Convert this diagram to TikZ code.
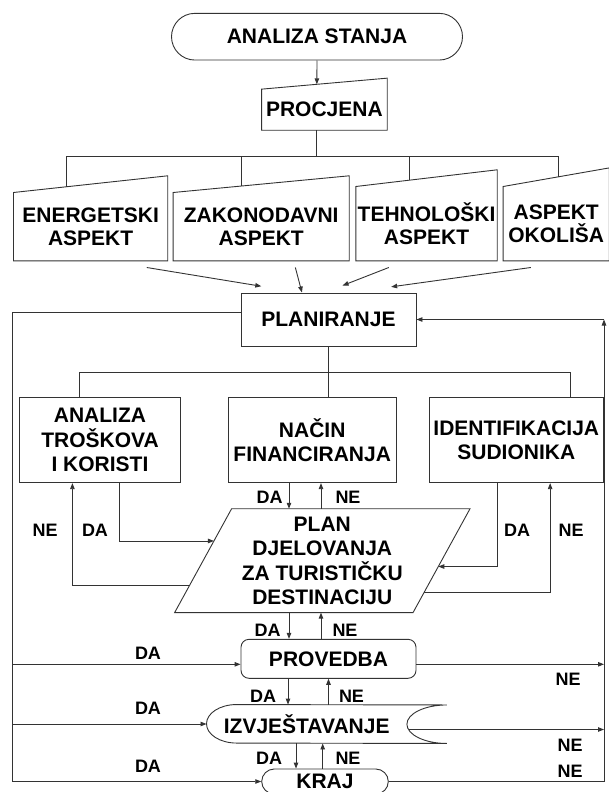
\documentclass[tikz,border=0pt]{standalone}
\usepackage{fontspec}
\setmainfont{Liberation Sans}
\usetikzlibrary{shapes.misc,arrows.meta,calc}

\tikzset{
  conn/.style={draw=black!80, line width=0.9pt},
  arr/.style={conn, -{Triangle[length=6pt,width=4.5pt]}},
  txt/.style={font=\bfseries\fontsize{21}{24.5}\selectfont, align=center, inner sep=0pt},
  proc/.style={txt, draw=black!80, line width=0.9pt, rectangle},
  term/.style={txt, draw=black!80, line width=0.9pt, rounded rectangle},
  manin/.style={txt, rectangle},
  aspect/.style={manin, font=\bfseries\fontsize{21}{23}\selectfont},
  lbl/.style={font=\bfseries\fontsize{18}{20}\selectfont, inner sep=0pt}
}

\begin{document}
\begin{tikzpicture}[x=1pt, y=-1pt]
  \useasboundingbox (0,0) rectangle (608,792);

  % blocks
  \node[term, minimum width=291pt, minimum height=46.7pt] (analiza) at (317,36.7) {ANALIZA STANJA};
  \node[manin, minimum width=125.3pt, minimum height=40.7pt] (procjena) at (324.4,109.7) {PROCJENA};

  \node[aspect, minimum width=153.9pt, minimum height=68pt] (energ) at (90.6,226.7) {ENERGETSKI\\ASPEKT};
  \node[aspect, minimum width=175.7pt, minimum height=68pt] (zakon) at (261.2,226.7) {ZAKONODAVNI\\ASPEKT};
  \node[aspect, minimum width=141pt, minimum height=74pt] (tehno) at (426.5,223.7) {TEHNOLOŠKI\\ASPEKT};
  \node[aspect, minimum width=105.7pt, minimum height=74pt] (okolis) at (556.2,223.7) {ASPEKT\\OKOLIŠA};

  \node[proc, minimum width=175pt, minimum height=53pt] (planir) at (328.5,319.5) {PLANIRANJE};
  \node[proc, minimum width=161.3pt, minimum height=85pt] (trosk) at (100,440.2) {ANALIZA\\TROŠKOVA\\I KORISTI};
  \node[proc, minimum width=168.3pt, minimum height=85pt] (nacin) at (312.2,440.2) {NAČIN\\FINANCIRANJA};
  \node[proc, minimum width=173.4pt, minimum height=85pt] (sudion) at (516.3,440.2) {IDENTIFIKACIJA\\SUDIONIKA};

  \node[manin, minimum width=238pt, minimum height=103.5pt] (plan) at (322.3,560.7) {PLAN\\DJELOVANJA\\ZA TURISTIČKU\\DESTINACIJU};
  \node[proc, rounded corners=8pt, minimum width=175pt, minimum height=39pt] (provedba) at (328.5,658.8) {PROVEDBA};
  \node[manin, minimum width=200pt, minimum height=38.5pt] (izvj) at (306.7,724) {IZVJEŠTAVANJE};
  \node[term, minimum width=126.6pt, minimum height=25pt] (kraj) at (325,781.5) {KRAJ};

  % slanted tops
  \foreach \b/\s in {procjena/11, energ/16.7, zakon/16.7, tehno/16.7, okolis/18.6}
    \draw[conn] (\b.south west) -- (\b.north west) -- ([yshift=\s pt]\b.north east) coordinate (\b-ne) -- (\b.south east) -- cycle;

  % parallelogram and stored data outline
  \draw[conn] ([xshift=28.5pt]plan.north west) coordinate (tl) -- ([xshift=28.5pt]plan.north east) coordinate (tr)
    -- ([xshift=-28.5pt]plan.south east) coordinate (brr) -- ([xshift=-28.5pt]plan.south west) coordinate (bl) -- cycle;
  \draw[conn] ([xshift=30pt]izvj.north west) arc[start angle=90, end angle=270, x radius=30pt, y radius=19.25pt]
    -- ([xshift=40pt]izvj.south east) arc[start angle=270, end angle=90, x radius=40pt, y radius=19.25pt] -- cycle;

  % labels
  \node[lbl] (da1) at (269.6,497.3) {DA};
  \node[lbl] (ne1) at (348,497.3) {NE};
  \node[lbl] (ne2) at (45.2,530) {NE};
  \node[lbl] (da2) at (95,530) {DA};
  \node[lbl] (da3) at (517,530) {DA};
  \node[lbl] (ne3) at (571,530) {NE};
  \node[lbl] (da4) at (267.5,630) {DA};
  \node[lbl] (ne4) at (345,630) {NE};
  \node[lbl] (da5) at (263,696) {DA};
  \node[lbl] (ne5) at (351.5,696) {NE};
  \node[lbl] (da6) at (269,758.3) {DA};
  \node[lbl] (ne6) at (348,758) {NE};
  \node[lbl] (da7) at (148,653) {DA};
  \node[lbl] (da8) at (148,708) {DA};
  \node[lbl] (da9) at (148,766) {DA};
  \node[lbl] (ne7) at (568,679.3) {NE};
  \node[lbl] (ne8) at (570,745) {NE};
  \node[lbl] (ne9) at (570,771.7) {NE};

  % tree under PROCJENA
  \draw[arr] (analiza.south) -- ($(procjena.north west)!0.44!(procjena-ne)$);
  \coordinate (fork) at (316,156);
  \coordinate (e1) at ($(energ.north west)!0.345!(energ-ne)$);
  \coordinate (e2) at ($(zakon.north west)!0.389!(zakon-ne)$);
  \coordinate (e3) at ($(tehno.north west)!0.376!(tehno-ne)$);
  \coordinate (e4) at ($(okolis.north west)!0.521!(okolis-ne)$);
  \draw[conn] (procjena.south -| fork) -- (fork);
  \draw[conn] (e1) -- (e1 |- fork) -- (e4 |- fork) -- (e4);
  \draw[conn] (e2) -- (e2 |- fork);
  \draw[conn] (e3) -- (e3 |- fork);

  \draw[arr] ($(energ.south east)+(-21,6.6)$) -- ($(planir.north west)+(20.7,-6.3)$);
  \draw[arr] ($(zakon.south west)+(122.2,6.6)$) -- ($(planir.north west)+(61.4,0)$);
  \draw[arr] ($(tehno.south west)+(33,6.6)$) -- ($(planir.north west)+(102,-7)$);
  \draw[arr] ($(okolis.south west)+(27.7,6.6)$) -- ($(planir.north west)+(150.6,-5.7)$);

  % tree under PLANIRANJE
  \coordinate (pfork) at ($(planir.south)+(0,26.3)$);
  \coordinate (t1) at ($(trosk.north west)+(60.1,0)$);
  \coordinate (t3) at ($(sudion.north west)+(141.4,0)$);
  \draw[conn] (planir.south) -- (planir.south |- nacin.north);
  \draw[conn] (t1) -- (t1 |- pfork) -- (t3 |- pfork) -- (t3);

  % into and out of the plan
  \coordinate (pl1) at ($(tl)!0.31!(bl)$);
  \coordinate (pl2) at ($(tl)!0.74!(bl)$);
  \coordinate (pr1) at ($(tr)!0.556!(brr)$);
  \coordinate (pr2) at ($(tr)!0.81!(brr)$);
  \draw[arr] ($(trosk.south west)+(100.8,0)$) |- (pl1);
  \draw[arr] (pl2) -| ($(trosk.south west)+(53.5,0)$);
  \draw[arr] ($(sudion.south west)+(67.9,0)$) |- (pr1);
  \draw[arr] (pr2) -| ($(sudion.south west)+(121,0)$);

  \coordinate (nd) at ([xshift=-23.2pt]nacin.south);
  \coordinate (nu) at ([xshift=8.8pt]nacin.south);
  \draw[arr] (nd) -- (nd |- plan.north);
  \draw[arr] (nu |- plan.north) -- (nu);
  \coordinate (pd) at ([xshift=-39.5pt]provedba.north);
  \coordinate (pu) at ([xshift=-7.5pt]provedba.north);
  \draw[arr] (pd |- plan.south) -- (pd);
  \draw[arr] (pu) -- (pu |- plan.south);
  \coordinate (qd) at ([xshift=-40.5pt]provedba.south);
  \draw[arr] (qd) -- (qd |- izvj.north);
  \draw[arr] (provedba.south |- izvj.north) -- (provedba.south);
  \coordinate (rd) at ([xshift=-29pt]kraj.north);
  \coordinate (ru) at ([xshift=-2.3pt]kraj.north);
  \draw[arr] (rd |- izvj.south) -- (rd);
  \draw[arr] (ru) -- (ru |- izvj.south);

  % outer loops
  \coordinate (lft) at (12.3,0);
  \coordinate (rgt) at (604,0);
  \coordinate (pvw) at ([yshift=-5.5pt]provedba.west);
  \coordinate (pve) at ([yshift=-5.5pt]provedba.east);
  \coordinate (ize) at ([shift={(2.2,5.5)}]izvj.east);
  \draw[arr] ([yshift=6.8pt]planir.west) -| (lft |- kraj.west) -- (kraj.west);
  \draw[arr] (lft |- pvw) -- (pvw);
  \draw[arr] (lft |- izvj.west) -- (izvj.west);
  \draw[arr] (pve) -- (rgt |- pve);
  \draw[arr] (ize) -- (rgt |- ize);
  \draw[arr] (kraj.east) -| (rgt |- planir.east);
  \draw[arr] (rgt |- planir.east) -- (planir.east);

\end{tikzpicture}
\end{document}
